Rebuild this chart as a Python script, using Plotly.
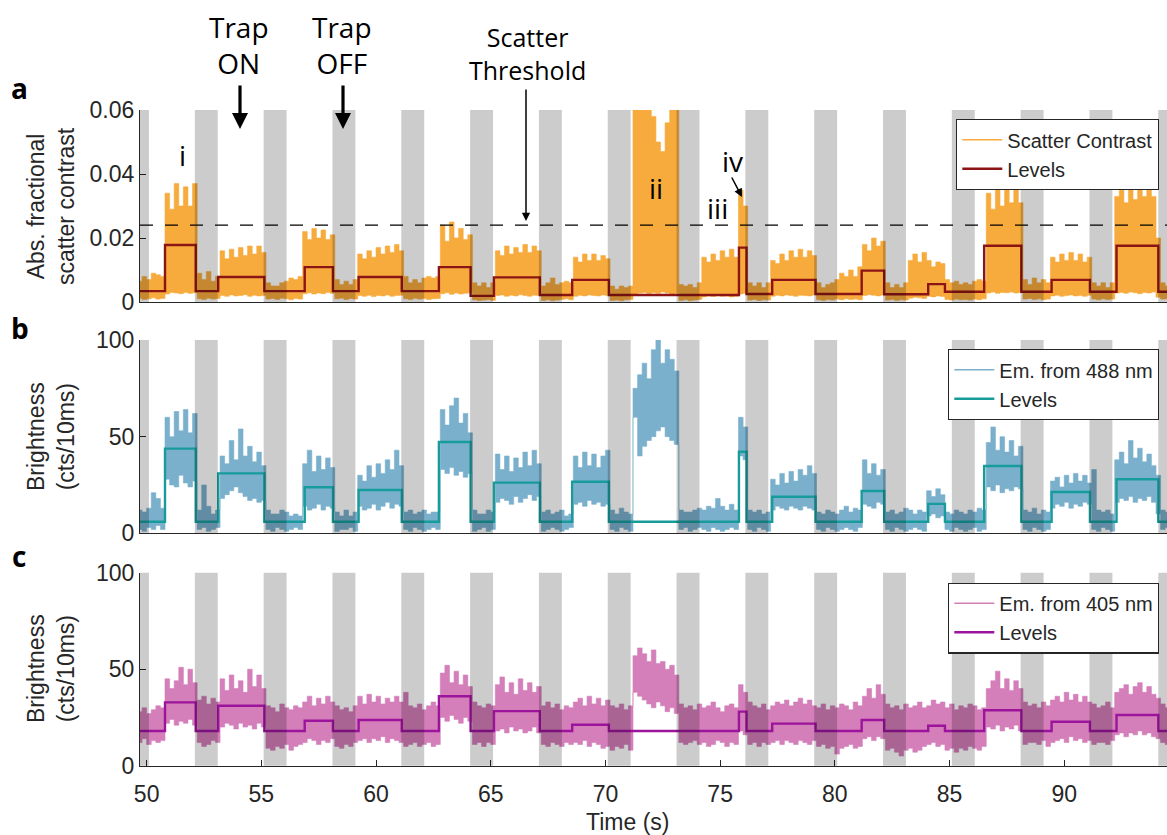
import numpy as np
import plotly.graph_objects as go

W, H = 1167, 835

# ---------------- data ----------------
# time base (s) of the sampled noise envelopes
noise_t = np.round(np.arange(49.7, 94.5001, 0.2), 2)

# panel a: scatter contrast envelope, in units of 1e-3
scatter_hi_milli = [
    6.5, 8.0, 7.0, 9.0, 8.5,   8.0, 34, 29, 37, 30,     36, 30, 37, 9.0, 7.0,
    9.5, 6.5, 8.0, 16, 13.5,   16.5, 14, 17, 14.5, 17.5,  15, 17.5, 15.5, 6.0, 5.0,
    5.0, 6.0, 6.5, 7.5, 7.0,   8.0, 22, 19.5, 23, 20,   22.5, 19.5, 21, 7.0, 5.5,
    6.5, 5.5, 7.0, 15, 13.5,   16, 14, 17, 15, 17.5,    15.5, 18, 16, 8.0, 6.0,
    7.0, 6.0, 7.5, 8.0, 7.5,   8.0, 24, 19, 25, 20,     23, 19.5, 21, 6.0, 5.0,
    6.0, 4.5, 6.0, 16, 14.5,   17.5, 15, 17, 15.5, 18,  15.5, 17.5, 16, 5.0, 6.0,
    7.5, 5.5, 6.0, 6.5, 6.0,   14, 12.5, 15, 13, 15,    13, 14.5, 13.5, 5.0, 4.0,
    5.0, 4.5, 5.0, 62, 65,     63, 66, 58, 50, 47,      56, 64, 62, 5.5, 5.0,
    5.5, 4.5, 6.0, 14, 12.5,   15, 13, 16, 14, 16.5,    14, 35, 30, 6.0, 5.0,
    6.0, 4.5, 6.0, 13, 12,     15, 13, 16, 14, 16.5,    14, 16, 14.5, 6.0, 4.5,
    5.5, 6.0, 7.0, 9.0, 8.0,   10, 8.0, 11, 18, 16,     20, 17.5, 19, 6.0, 4.5,
    5.5, 4.5, 6.0, 13, 15,     12.5, 15.5, 13, 11, 12.5,  12, 7.0, 6.0, 6.5, 5.5,
    6.0, 5.5, 6.5, 7.0, 6.5,   34, 29, 35, 30, 35,      31, 35, 31, 7.0, 5.5,
    7.5, 6.0, 7.0, 6.0, 14,    12.5, 15, 13, 15.5, 13,  15, 12.5, 14, 6.0, 5.0,
    6.0, 4.5, 6.0, 33, 36,     31, 37, 32, 38, 33,      39, 33, 20, 6.0, 5.0,
]
scatter_lo_milli = [
    1.2, 0.8, 1.0, 1.3, 0.9,   1.1, 2.5, 3.0, 2.8, 2.6,   3.0, 2.7, 2.9, 1.0, 0.8,
    1.2, 0.9, 1.1, 2.0, 1.8,   2.2, 1.9, 2.0, 2.3, 1.8,   2.1, 1.9, 2.0, 0.9, 1.1,
    0.8, 1.2, 1.0, 0.7, 1.1,   0.9, 2.6, 2.9, 2.5, 2.8,   2.6, 3.0, 2.7, 1.0, 1.2,
    0.8, 1.1, 0.9, 2.0, 1.8,   2.1, 1.7, 2.0, 1.9, 2.2,   1.8, 2.0, 2.1, 1.0, 0.8,
    1.2, 0.9, 1.1, 0.8, 1.0,   1.1, 2.6, 2.9, 2.4, 2.8,   2.5, 2.7, 2.9, 0.7, 0.5,
    0.6, 0.8, 0.5, 2.0, 2.2,   1.8, 2.1, 1.9, 2.3, 2.0,   1.8, 2.1, 2.0, 0.5, 0.7,
    0.4, 0.6, 0.8, 1.0, 0.7,   1.8, 2.1, 1.9, 2.2, 2.0,   1.9, 2.2, 2.0, 0.5, 0.6,
    0.4, 0.7, 0.8, 2.5, 2.8,   3.0, 2.6, 2.9, 2.7, 3.1,   2.8, 2.5, 2.7, 0.5, 0.7,
    0.4, 0.6, 0.8, 1.6, 1.9,   1.7, 2.0, 1.8, 1.9, 1.6,   1.8, 2.5, 2.7, 0.6, 0.8,
    0.5, 0.7, 0.6, 1.8, 2.1,   1.9, 2.2, 2.0, 1.8, 2.1,   2.0, 1.9, 2.2, 0.7, 0.5,
    0.8, 0.6, 0.9, 0.7, 1.0,   0.8, 0.9, 0.7, 2.0, 2.3,   2.1, 1.9, 2.2, 0.6, 0.8,
    0.5, 0.7, 0.6, 1.2, 1.5,   1.3, 1.1, 1.8, 1.6, 1.9,   1.7, 0.8, 0.6, 0.9, 0.7,
    0.8, 0.6, 0.9, 0.7, 1.0,   2.8, 3.1, 2.7, 3.0, 2.9,   3.1, 2.8, 3.0, 0.9, 1.1,
    0.8, 1.0, 0.7, 0.9, 1.9,   2.1, 1.8, 2.0, 2.2, 1.9,   2.0, 1.8, 2.1, 0.9, 0.7,
    1.0, 0.8, 0.9, 2.8, 3.0,   2.7, 3.1, 2.9, 2.6, 3.0,   2.8, 3.1, 1.5, 0.9, 1.0,
]

# panel b: emission excited at 488 nm (cts/10ms)
em488_hi = [
    12, 11, 13, 21, 18,   13, 60, 50, 63, 53,   64, 52, 62, 12, 25,
    14, 10, 12, 40, 36,   48, 38, 54, 40, 45,   37, 42, 35, 12, 10,
    10, 12, 11, 9, 10,    9, 36, 43, 32, 40,    33, 39, 34, 11, 9,
    12, 9, 11, 30, 27,    35, 29, 36, 31, 38,   33, 43, 35, 11, 12,
    10, 11, 12, 10, 11,   11, 64, 56, 66, 70,   57, 62, 52, 12, 10,
    10, 12, 11, 41, 33,   40, 32, 39, 34, 42,   35, 43, 36, 11, 12,
    10, 11, 12, 9, 10,    40, 34, 42, 35, 41,   34, 40, 43, 12, 10,
    13, 11, 10, 75, 82,   88, 80, 95, 100, 88,  95, 90, 84, 12, 11,
    11, 12, 13, 12, 14,   13, 18, 14, 12, 15,   12, 60, 55, 12, 11,
    12, 10, 11, 28, 25,   31, 26, 32, 27, 33,   30, 35, 31, 11, 10,
    12, 11, 10, 12, 14,   11, 13, 12, 38, 31,   36, 30, 33, 11, 12,
    10, 11, 13, 12, 10,   12, 11, 22, 19, 23,   20, 11, 10, 12, 11,
    10, 12, 11, 13, 12,   47, 55, 43, 50, 42,   48, 40, 45, 12, 11,
    13, 10, 12, 11, 27,   29, 24, 30, 26, 31,   27, 30, 26, 33, 12,
    11, 12, 10, 38, 42,   36, 48, 39, 44, 37,   41, 35, 30, 12, 11,
]
em488_lo = [
    2, 1, 3, 2, 4,        2, 28, 25, 24, 30,    26, 24, 27, 2, 3,
    1, 2, 3, 18, 20,      22, 24, 21, 19, 17,   18, 16, 17, 2, 1,
    3, 2, 1, 2, 3,        2, 14, 12, 13, 15,    12, 14, 13, 1, 2,
    2, 3, 1, 14, 12,      13, 15, 12, 14, 16,   13, 15, 14, 2, 1,
    3, 2, 1, 2, 3,        2, 33, 31, 34, 30,    32, 29, 31, 1, 2,
    3, 1, 2, 16, 18,      17, 15, 19, 16, 18,   20, 17, 19, 1, 2,
    3, 2, 1, 2, 3,        15, 16, 14, 17, 15,   16, 14, 15, 2, 1,
    3, 2, 1, 60, 40,      45, 48, 50, 53, 55,   50, 48, 46, 2, 3,
    1, 2, 3, 2, 1,        3, 2, 1, 2, 3,        2, 40, 38, 2, 1,
    3, 2, 1, 12, 14,      13, 12, 14, 13, 12,   14, 13, 12, 2, 1,
    3, 2, 1, 2, 3,        2, 1, 3, 15, 14,      13, 16, 15, 2, 1,
    3, 2, 1, 2, 3,        2, 1, 9, 10, 8,       9, 2, 1, 3, 2,
    1, 2, 3, 1, 2,        24, 22, 25, 21, 23,   22, 24, 23, 2, 1,
    3, 2, 1, 2, 13,       15, 14, 16, 13, 15,   14, 16, 15, 2, 1,
    3, 2, 1, 16, 18,      17, 19, 16, 18, 17,   19, 16, 10, 2, 3,
]

# panel c: emission excited at 405 nm (cts/10ms)
em405_hi = [
    28, 30, 27, 29, 31,   30, 45, 40, 44, 51,   42, 50, 43, 34, 36,
    32, 35, 33, 45, 39,   47, 40, 44, 38, 50,   41, 47, 40, 31, 30,
    28, 32, 30, 29, 31,   30, 33, 36, 31, 35,   32, 36, 33, 31, 29,
    30, 28, 31, 36, 32,   37, 33, 36, 32, 35,   33, 36, 33, 38, 31,
    30, 32, 29, 31, 33,   31, 48, 52, 43, 49,   42, 47, 41, 33, 31,
    30, 32, 31, 42, 46,   38, 43, 37, 45, 39,   43, 38, 41, 31, 33,
    30, 32, 29, 31, 30,   33, 35, 31, 36, 32,   35, 31, 34, 31, 30,
    32, 29, 31, 57, 61,   58, 54, 60, 53, 54,   50, 52, 47, 32, 30,
    31, 29, 32, 30, 31,   33, 30, 28, 31, 32,   30, 42, 38, 33, 31,
    30, 32, 29, 31, 33,   32, 34, 31, 33, 35,   32, 34, 31, 30, 32,
    29, 31, 30, 32, 31,   29, 33, 31, 36, 40,   35, 42, 37, 32, 30,
    31, 29, 32, 30, 31,   33, 30, 31, 34, 32,   33, 30, 32, 29, 31,
    30, 32, 31, 29, 30,   40, 44, 49, 40, 45,   39, 44, 40, 33, 31,
    32, 30, 33, 31, 34,   36, 33, 38, 34, 37,   33, 36, 33, 32, 30,
    31, 33, 30, 38, 40,   42, 37, 41, 43, 38,   41, 37, 35, 32, 30,
]
em405_lo = [
    12, 14, 11, 13, 12,   13, 22, 24, 21, 23,   22, 24, 21, 12, 10,
    11, 13, 12, 20, 22,   21, 19, 22, 20, 21,   19, 22, 20, 9, 8,
    10, 9, 11, 8, 10,     11, 12, 14, 13, 11,   13, 12, 14, 10, 9,
    11, 10, 12, 13, 14,   12, 14, 13, 15, 12,   14, 13, 12, 10, 11,
    12, 10, 11, 12, 10,   11, 25, 23, 26, 24,   22, 25, 23, 11, 12,
    10, 12, 11, 18, 19,   17, 20, 18, 19, 17,   18, 20, 17, 11, 10,
    12, 11, 10, 12, 11,   12, 11, 13, 10, 12,   11, 9, 10, 8, 10,
    9, 11, 8, 38, 36,     34, 32, 30, 33, 31,   28, 30, 27, 12, 11,
    12, 13, 11, 12, 10,   11, 13, 12, 10, 12,   11, 18, 16, 11, 12,
    10, 12, 11, 12, 13,   11, 13, 12, 11, 13,   12, 11, 13, 10, 11,
    9, 10, 6, 9, 10,      11, 9, 10, 14, 15,    13, 15, 14, 8, 9,
    7, 5, 8, 9, 7,        8, 10, 11, 12, 10,    11, 8, 9, 7, 9,
    8, 10, 9, 8, 10,      20, 19, 21, 18, 20,   19, 21, 18, 11, 12,
    12, 11, 13, 10, 12,   13, 14, 12, 15, 13,   14, 12, 13, 11, 12,
    12, 11, 13, 16, 17,   15, 17, 16, 18, 16,   17, 15, 14, 12, 11,
]

# step-fit levels: change times (s) and level of each interval
level_t = [49.7, 50.8, 52.14, 53.12, 55.13, 56.89, 58.12, 59.24, 61.12, 62.74,
           64.12, 65.14, 67.14, 68.55, 70.15, 75.82, 76.15, 77.27, 79.16, 81.17,
           82.15, 84.07, 84.8, 86.51, 88.13, 89.45, 91.12, 92.28, 94.1, 94.5]
scatter_levels_milli = [3.4, 17.8, 3.4, 7.8, 3.4, 10.9, 3.4, 7.8, 3.4, 10.9,
                        1.9, 7.7, 2.2, 6.9, 2.2, 17.0, 2.5, 6.9, 2.5, 9.8,
                        2.4, 5.6, 3.2, 17.6, 3.2, 6.9, 3.2, 17.6, 3.2]
em488_levels = [6, 43.8, 6, 31, 6, 23.8, 6, 22.4, 6, 47.2,
                6, 26.2, 6, 26.7, 6, 42.2, 6, 18.9, 6, 21.9,
                6, 15.2, 6, 34.8, 6, 21.4, 6, 28, 6]
em405_levels = [18, 32.8, 18, 31.1, 18, 23.3, 18, 23.7, 18, 36,
                18, 28.3, 18, 21.2, 18, 28, 18, 21.8, 18, 23.7,
                18, 20.7, 18, 28.7, 18, 22.8, 18, 26.3, 18]

# trap-off intervals (grey bands), s
trap_off_start = [49.1, 52.1, 55.1, 58.1, 61.1, 64.1, 67.1, 70.1,
                  73.1, 76.1, 79.1, 82.1, 85.1, 88.1, 91.1, 94.1]
trap_off_end = [50.1, 53.1, 56.1, 59.1, 62.1, 65.1, 68.1, 71.1,
                74.1, 77.1, 80.1, 83.1, 86.1, 89.1, 92.1, 95.1]

scatter_threshold = 0.024

x_ticks = [50, 55, 60, 65, 70, 75, 80, 85, 90]
a_ticks = [0, 0.02, 0.04, 0.06]
a_ticktext = ["0", "0.02", "0.04", "0.06"]
bc_ticks = [0, 50, 100]

for arr in (scatter_hi_milli, scatter_lo_milli, em488_hi, em488_lo, em405_hi, em405_lo):
    assert len(arr) == len(noise_t), len(arr)

# ---------------- figure ----------------
INK = "#262626"
SANS = "Liberation Sans, Arial, sans-serif"
HUM = "Open Sans, Lato, sans-serif"

def px(v):
    return v / W

def py(v):
    return 1 - v / H

x_range = [49.71, 94.48]
x_dom = [140 / W, 1.0]
y_doms = [[py(302), py(110)], [py(533.3), py(340)], [py(765.7), py(572.7)]]

panels = [
    dict(hi=np.array(scatter_hi_milli) * 1e-3, lo=np.array(scatter_lo_milli) * 1e-3,
         lev=list(np.array(scatter_levels_milli) * 1e-3),
         ncol="rgb(247,171,60)", lcol="rgb(140,20,20)",
         name="Scatter Contrast", legend="legend"),
    dict(hi=np.array(em488_hi, float), lo=np.array(em488_lo, float), lev=em488_levels,
         ncol="rgb(122,176,204)", lcol="rgb(24,155,155)",
         name="Em. from 488 nm", legend="legend2"),
    dict(hi=np.array(em405_hi, float), lo=np.array(em405_lo, float), lev=em405_levels,
         ncol="rgb(212,126,186)", lcol="rgb(155,20,155)",
         name="Em. from 405 nm", legend="legend3"),
]

fig = go.Figure()
for i, p in enumerate(panels):
    xa = "x" if i == 0 else f"x{i+1}"
    ya = "y" if i == 0 else f"y{i+1}"
    fig.add_trace(go.Scatter(
        x=np.concatenate([noise_t, noise_t[::-1]]),
        y=np.concatenate([p["hi"], p["lo"][::-1]]),
        fill="toself", fillcolor=p["ncol"], mode="lines",
        line=dict(color=p["ncol"], width=0.6, shape="hvh"),
        xaxis=xa, yaxis=ya, showlegend=False, hoverinfo="skip"))
    fig.add_trace(go.Scatter(
        x=level_t, y=list(p["lev"]) + [p["lev"][-1]], mode="lines",
        line=dict(color=p["lcol"], width=2.4, shape="hv"),
        xaxis=xa, yaxis=ya, showlegend=False))
    fig.add_trace(go.Scatter(
        x=[None], y=[None], mode="lines", name=p["name"],
        line=dict(color=p["ncol"], width=1.6),
        xaxis=xa, yaxis=ya, legend=p["legend"]))
    fig.add_trace(go.Scatter(
        x=[None], y=[None], mode="lines", name="Levels",
        line=dict(color=p["lcol"], width=2.4),
        xaxis=xa, yaxis=ya, legend=p["legend"]))

axis_common = dict(showgrid=False, zeroline=False, showline=True, linecolor=INK,
                   linewidth=1.3, tickcolor=INK, tickwidth=1.3, ticklen=6,
                   automargin=False,
                   tickfont=dict(family=SANS, size=23, color=INK))

layout = dict(
    width=W, height=H, autosize=False,
    margin=dict(l=0, r=0, t=0, b=0, pad=0, autoexpand=False),
    paper_bgcolor="white", plot_bgcolor="white", showlegend=True,
)
for i in range(3):
    xk = "xaxis" if i == 0 else f"xaxis{i+1}"
    yk = "yaxis" if i == 0 else f"yaxis{i+1}"
    ya = "y" if i == 0 else f"y{i+1}"
    xa = "x" if i == 0 else f"x{i+1}"
    xd = dict(axis_common, domain=x_dom, range=x_range, anchor=ya)
    if i < 2:
        xd.update(ticks="", showticklabels=False)
    else:
        xd.update(ticks="inside", tickvals=x_ticks, ticklabelstandoff=8)
    if i > 0:
        xd["matches"] = "x"
    yd = dict(axis_common, domain=y_doms[i], anchor=xa, ticks="inside")
    if i == 0:
        yd.update(range=[0, 0.06], tickvals=a_ticks, ticktext=a_ticktext)
    else:
        yd.update(range=[0, 100], tickvals=bc_ticks)
    layout[xk] = xd
    layout[yk] = yd

leg_common = dict(bgcolor="white", bordercolor=INK, borderwidth=1.3,
                  font=dict(family=SANS, size=20, color=INK),
                  xanchor="right", yanchor="top", x=1159 / W,
                  tracegroupgap=0, itemwidth=40)
layout["legend"] = dict(leg_common, y=py(119))
layout["legend2"] = dict(leg_common, y=py(349))
layout["legend3"] = dict(leg_common, y=py(582.5))

shapes = []
for i in range(3):
    xa = "x" if i == 0 else f"x{i+1}"
    ya = "y" if i == 0 else f"y{i+1}"
    for s, e in zip(trap_off_start, trap_off_end):
        shapes.append(dict(type="rect", xref=xa, yref=f"{ya} domain",
                           x0=max(s, x_range[0]), x1=min(e, x_range[1]), y0=0, y1=1,
                           fillcolor="rgba(0,0,0,0.2)", line=dict(width=0),
                           layer="above"))
shapes.append(dict(type="line", xref="x domain", yref="y", x0=0, x1=1,
                   y0=scatter_threshold, y1=scatter_threshold,
                   line=dict(color="black", width=1.2, dash="13px,12px"), layer="above"))
layout["shapes"] = shapes

ann = []
def text(t, x, y, size, family=HUM, angle=0, color="black"):
    ann.append(dict(text=t, x=px(x), y=py(y), xref="paper", yref="paper",
                    showarrow=False, xanchor="center", yanchor="middle",
                    textangle=angle, font=dict(family=family, size=size, color=color)))

def arrow(tipx, tipy, tailx, taily, width, size):
    ann.append(dict(text="", x=px(tipx), y=py(tipy), xref="paper", yref="paper",
                    showarrow=True, ax=tailx - tipx, ay=taily - tipy,
                    arrowhead=2, arrowwidth=width, arrowsize=size,
                    arrowcolor="black", standoff=0, startstandoff=0))

text("<b>a</b>", 19, 88, 28)
text("<b>b</b>", 20, 328, 28)
text("<b>c</b>", 19, 556, 28)
text("Trap<br>ON", 239, 45, 28)
text("Trap<br>OFF", 342, 45, 28)
text("Scatter<br>Threshold", 527, 53, 25)
arrow(240, 129, 240, 84, 3.2, 1.0)
arrow(343, 129, 343, 84, 3.2, 1.0)
arrow(526, 221, 526, 88, 1.5, 1.1)
text("i", 182, 155, 28)
text("ii", 656, 188, 28)
text("iii", 717, 208, 28)
text("iv", 732, 161, 28)
arrow(742, 197, 731, 176, 1.5, 1.1)
text("Abs. fractional<br>scatter contrast", 51, 206, 23, family=SANS, angle=-90, color=INK)
text("Brightness<br>(cts/10ms)", 51, 437, 23, family=SANS, angle=-90, color=INK)
text("Brightness<br>(cts/10ms)", 51, 669, 23, family=SANS, angle=-90, color=INK)
text("Time (s)", 627, 822, 23, family=SANS, color=INK)
layout["annotations"] = ann

fig.update_layout(**layout)
fig.write_html("out.html")
